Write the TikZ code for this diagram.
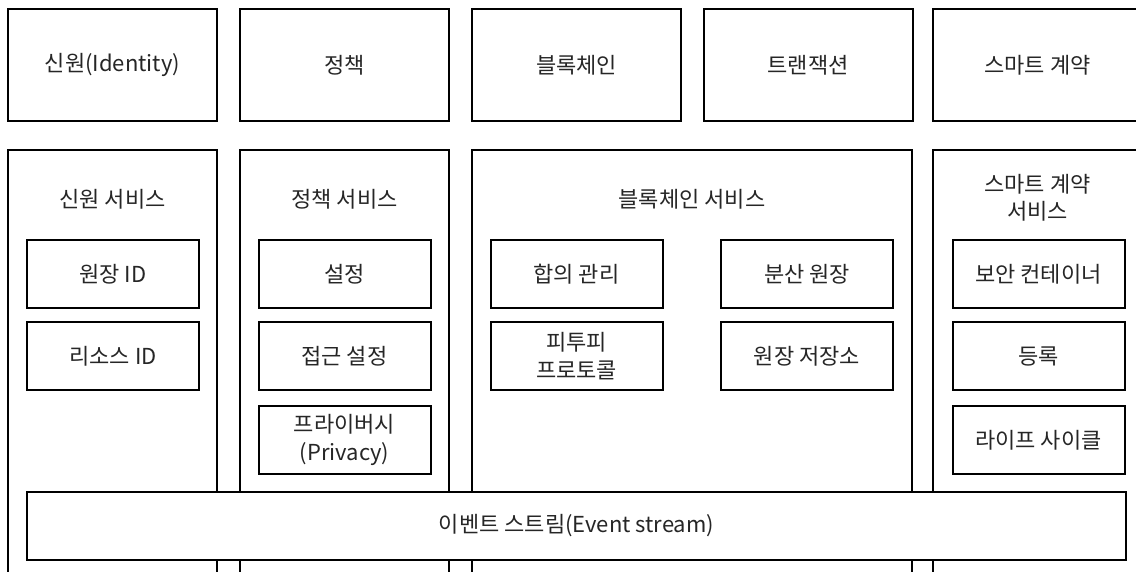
\documentclass[tikz,border=0pt]{standalone}
\usepackage{fontspec}
\setmainfont{Noto Sans CJK KR}
\begin{document}
\begin{tikzpicture}[x=1pt,y=-1pt,
  box/.style={draw=black,line width=2pt,fill=white,minimum width=#1,inner sep=0pt,outer sep=0pt},
  topbox/.style={box=209pt,minimum height=112pt},
  inbox/.style={box=172pt,minimum height=68pt},
  lbl/.style={inner sep=0pt,align=center},
  every node/.style={font=\fontsize{22}{27.5}\selectfont,text=black!85}]
\useasboundingbox (0,0) rectangle (1136,572);
\clip (0,0) rectangle (1136,572);
\fill[white] (0,0) rectangle (1136,572);
% top row
\node[topbox] (t1) at (112.5,65) {신원(Identity)};
\node[topbox] (t2) at (344.5,65) {정책};
\node[topbox] (t3) at (576.5,65) {블록체인};
\node[topbox] (t4) at (808,65) {트랜잭션};
\node[topbox] (t5) at (1037.5,65) {스마트 계약};
% service columns
\draw[line width=2pt] (8,600) -- (8,150) -- (217,150) -- (217,600);
\draw[line width=2pt] (240,600) -- (240,150) -- (449,150) -- (449,600);
\draw[line width=2pt] (472,600) -- (472,150) -- (912,150) -- (912,600);
\draw[line width=2pt] (933,600) -- (933,150) -- (1142,150) -- (1142,600);
\node[lbl] (s1) at (112.5,199) {신원 서비스};
\node[lbl] (s2) at (344.5,199) {정책 서비스};
\node[lbl] (s3) at (692,199) {블록체인 서비스};
\node[lbl] (s4) at (1037.5,198) {스마트 계약\\서비스};
% identity
\node[inbox] (i1) at (113,274.5) {원장 ID};
\node[inbox] (i2) at (113,356) {리소스 ID};
% policy
\node[inbox] (p1) at (344.5,274.5) {설정};
\node[inbox] (p2) at (344.5,356) {접근 설정};
\node[inbox,align=center] (p3) at (344.5,440) {프라이버시\\(Privacy)};
% blockchain
\node[inbox] (b1) at (576.5,274.5) {합의 관리};
\node[inbox,align=center] (b2) at (576.5,356) {피투피\\프로토콜};
\node[inbox] (b3) at (807,274.5) {분산 원장};
\node[inbox] (b4) at (807,356) {원장 저장소};
% smart contract
\node[inbox] (c1) at (1038.5,274.5) {보안 컨테이너};
\node[inbox] (c2) at (1038.5,356) {등록};
\node[inbox] (c3) at (1038.5,440) {라이프 사이클};
% event stream
\node[box=1099pt,minimum height=68pt] (ev) at (576.5,526) {이벤트 스트림(Event stream)};
\end{tikzpicture}
\end{document}
